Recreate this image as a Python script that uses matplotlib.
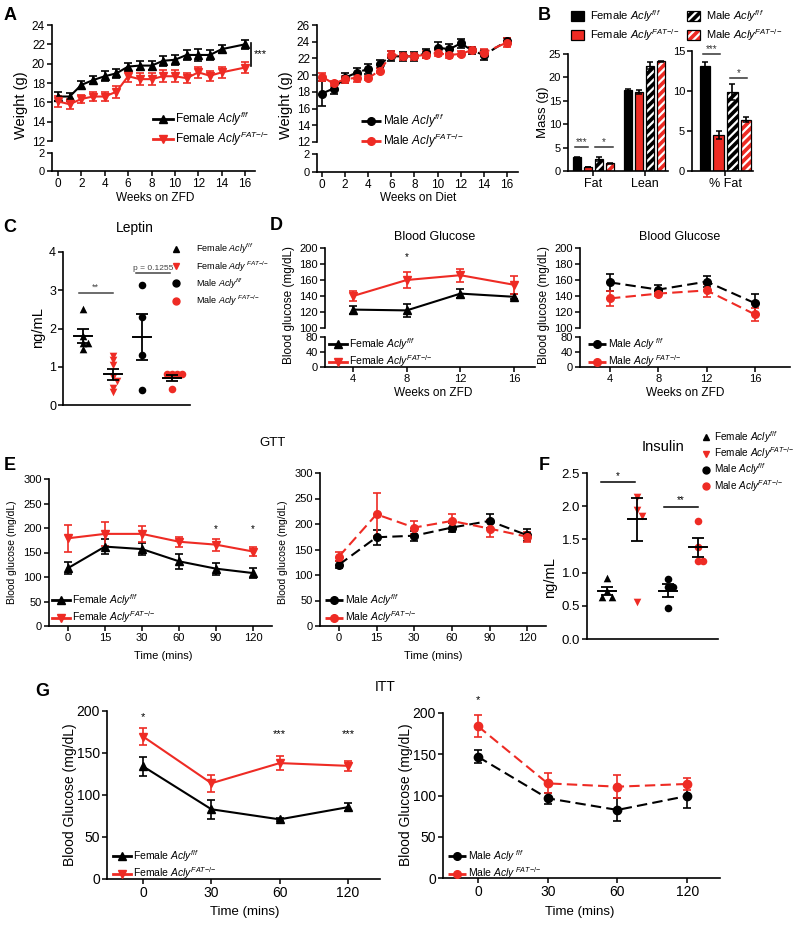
import numpy as np
import matplotlib
matplotlib.use("Agg")
import matplotlib.pyplot as plt
from matplotlib.patches import Patch
from matplotlib.lines import Line2D

plt.rcParams['font.family'] = ['Liberation Sans', 'DejaVu Sans']
plt.rcParams['mathtext.fontset'] = 'custom'
plt.rcParams['mathtext.rm'] = 'Liberation Sans'
plt.rcParams['mathtext.it'] = 'Liberation Sans:italic'
plt.rcParams['hatch.linewidth'] = 1.6
plt.rcParams['axes.linewidth'] = 1.2

RED = '#ee2b24'

# ---- A: body weight (g) ----
weeks = [0, 1, 2, 3, 4, 5, 6, 7, 8, 9, 10, 11, 12, 13, 14, 16]
a_f_ctl = [16.6, 16.6, 17.8, 18.3, 18.7, 19.0, 19.7, 19.8, 19.8, 20.3, 20.4, 20.9, 20.9, 20.9, 21.5, 22.0]
a_f_ctl_err = [0.5, 0.4, 0.4, 0.4, 0.5, 0.5, 0.4, 0.5, 0.5, 0.5, 0.5, 0.5, 0.6, 0.5, 0.4, 0.5]
a_f_ko = [16.1, 15.8, 16.35, 16.6, 16.6, 17.1, 18.7, 18.4, 18.4, 18.7, 18.7, 18.5, 19.1, 18.75, 19.1, 19.6]
a_f_ko_err = [0.6, 0.5, 0.4, 0.5, 0.5, 0.6, 0.6, 0.6, 0.6, 0.6, 0.6, 0.5, 0.6, 0.5, 0.6, 0.6]
a_m_ctl = [17.8, 18.4, 19.7, 20.3, 20.75, 21.35, 22.25, 22.25, 22.25, 22.6, 23.3, 23.1, 23.8, 22.95, 22.4, 24.1]
a_m_ctl_err = [1.5, 0.6, 0.6, 0.6, 0.6, 0.5, 0.6, 0.5, 0.5, 0.5, 0.7, 0.6, 0.5, 0.4, 0.6, 0.3]
a_m_ko = [19.8, 19.0, 19.5, 19.7, 19.65, 20.55, 22.45, 22.25, 22.25, 22.45, 22.65, 22.4, 22.55, 23.0, 22.7, 23.9]
a_m_ko_err = [0.5, 0.3, 0.4, 0.5, 0.2, 0.3, 0.4, 0.4, 0.4, 0.4, 0.4, 0.3, 0.3, 0.4, 0.4, 0.5]

# ---- B: body composition ----
b_cats = ['Fat', 'Lean']
b_f_ctl = [2.9, 17.4];  b_f_ctl_err = [0.1, 0.2]
b_f_ko = [0.9, 16.9];   b_f_ko_err = [0.05, 0.5]
b_m_ctl = [2.6, 22.5];  b_m_ctl_err = [0.4, 0.7]
b_m_ko = [1.7, 23.4];   b_m_ko_err = [0.1, 0.2]
b_pct = [13.1, 4.5, 9.9, 6.4]
b_pct_err = [0.5, 0.5, 1.0, 0.3]

# ---- C: leptin (ng/mL) ----
c_pts = [[2.5, 1.8, 1.62, 1.62, 1.47],
         [1.28, 1.18, 1.04, 0.72, 0.62, 0.45, 0.35],
         [3.15, 2.3, 1.3, 0.4],
         [0.8, 0.8, 0.8, 0.8, 0.42]]
c_mean = [1.8, 0.8, 1.78, 0.7]
c_sem = [0.19, 0.15, 0.6, 0.08]

# ---- D: blood glucose over weeks ----
d_weeks = [4, 8, 12, 16]
d_f_ctl = [123, 122, 143, 139];  d_f_ctl_err = [5, 8, 6, 3]
d_f_ko = [140, 160, 166, 154];   d_f_ko_err = [6, 10, 8, 11]
d_m_ctl = [157, 148, 158, 131];  d_m_ctl_err = [11, 6, 7, 12]
d_m_ko = [137, 143, 147, 117];   d_m_ko_err = [9, 3, 8, 8]

# ---- E: GTT ----
gtt_t = ['0', '15', '30', '60', '90', '120']
e_f_ctl = [118, 162, 157, 132, 117, 108];  e_f_ctl_err = [12, 15, 12, 15, 12, 10]
e_f_ko = [179, 188, 188, 172, 166, 152];   e_f_ko_err = [28, 25, 16, 10, 12, 9]
e_m_ctl = [120, 174, 177, 193, 206, 178];  e_m_ctl_err = [7, 15, 10, 9, 14, 12]
e_m_ko = [136, 219, 193, 206, 191, 175];   e_m_ko_err = [9, 42, 13, 13, 17, 10]

# ---- F: insulin (ng/mL) ----
f_pts = [[0.92, 0.72, 0.63, 0.63],
         [2.14, 1.95, 1.85, 0.55],
         [0.9, 0.78, 0.78, 0.47],
         [1.77, 1.38, 1.18, 1.18]]
f_mean = [0.72, 1.8, 0.73, 1.38]
f_sem = [0.06, 0.33, 0.1, 0.14]

# ---- G: ITT ----
itt_t = ['0', '30', '60', '120']
g_f_ctl = [134, 83, 71, 85.5];   g_f_ctl_err = [11, 11, 2, 5]
g_f_ko = [169.5, 114, 138, 134.7]; g_f_ko_err = [10, 10, 8, 6]
g_m_ctl = [147, 96.6, 82.5, 99.4]; g_m_ctl_err = [8, 7, 14, 15]
g_m_ko = [184, 114.7, 110.7, 114]; g_m_ko_err = [13, 12, 14, 7]

lab_f_ctl = r'Female $\mathit{Acly}^{\mathit{f/f}}$'
lab_f_ko = r'Female $\mathit{Acly}^{\mathit{FAT{-}/{-}}}$'
lab_m_ctl = r'Male $\mathit{Acly}^{\mathit{f/f}}$'
lab_m_ko = r'Male $\mathit{Acly}^{\mathit{FAT{-}/{-}}}$'

W, H = 800, 925
fig = plt.figure(figsize=(8, 9.25), dpi=100)


def axp(l, t, r, b):
    return fig.add_axes([l / W, 1 - b / H, (r - l) / W, (b - t) / H])


def style(ax, fs=8):
    ax.spines['top'].set_visible(False)
    ax.spines['right'].set_visible(False)
    ax.tick_params(direction='out', length=3.5, width=1.1, labelsize=fs, pad=1.5)
    ax.patch.set_alpha(0)


def top_part(ax):
    ax.spines['bottom'].set_visible(False)
    ax.set_xticks([])


def ftext(x, y, s, **kw):
    kw.setdefault('ha', 'center')
    kw.setdefault('va', 'center')
    fig.text(x / W, 1 - y / H, s, **kw)


def eb(ax, x, y, e, color, marker, dashed=False, ms=5.5):
    ls = (0, (5, 2.5)) if dashed else '-'
    ax.errorbar(x, y, yerr=e, color=color, marker=marker, ms=ms, lw=1.5, ls=ls,
                capsize=3, capthick=1.2, elinewidth=1.2, clip_on=False)


def hline(color, marker, dashed=False):
    ls = (0, (3, 1.5)) if dashed else '-'
    return Line2D([], [], color=color, marker=marker, ms=5.5, lw=2, ls=ls)


def leg(ax, handles, labels, x, y, fs=8, **kw):
    opts = dict(handlelength=1.7, handletextpad=0.2, labelspacing=0.15)
    opts.update(kw)
    ax.legend(handles, labels, loc='upper left', bbox_to_anchor=(x / W, 1 - y / H),
              bbox_transform=fig.transFigure, frameon=False, fontsize=fs,
              borderpad=0, borderaxespad=0, numpoints=1, **opts)


def spread(vals, step=0.16, tol=0.1):
    placed, offs = [], []
    for v in vals:
        k = sum(1 for pv in placed if abs(pv - v) < tol)
        o = 0 if k == 0 else ((k + 1) // 2) * step * (1 if k % 2 else -1)
        placed.append(v)
        offs.append(o)
    return np.array(offs)


# ================= A =================
for (l, r, top_y, bot_y, lo_top, lo_bot, xlim, ctl, ctl_e, ko, ko_e, mk, dashed, labs, legxy, yl, xl) in [
        (52, 255, 25, 141, 153, 171, (-0.51, 16.85), a_f_ctl, a_f_ctl_err, a_f_ko, a_f_ko_err,
         ('^', 'v'), False, (lab_f_ctl, lab_f_ko), (153, 110), (12, 24), ('Weeks on ZFD', 155)),
        (317, 518, 25, 142, 154, 172, (-0.43, 16.95), a_m_ctl, a_m_ctl_err, a_m_ko, a_m_ko_err,
         ('o', 'o'), True, (lab_m_ctl, lab_m_ko), (361, 112), (12, 26), ('Weeks on Diet', 418))]:
    ax = axp(l, top_y, r, bot_y)
    style(ax, 8.5)
    top_part(ax)
    eb(ax, weeks, ctl, ctl_e, 'k', mk[0], dashed)
    eb(ax, weeks, ko, ko_e, RED, mk[1], dashed)
    ax.set_xlim(*xlim)
    ax.set_ylim(*yl)
    ax.set_yticks(np.arange(yl[0], yl[1] + 1, 2))
    leg(ax, [hline('k', mk[0], dashed), hline(RED, mk[1], dashed)], labs, *legxy, fs=8.5)
    axb = axp(l, lo_top, r, lo_bot)
    style(axb, 8.5)
    axb.tick_params(axis='y', labelsize=8)
    axb.set_xlim(*xlim)
    axb.set_ylim(0, 2)
    axb.set_yticks([0, 2])
    axb.set_xticks(range(0, 17, 2))
    ftext(xl[1], 198, xl[0], fontsize=8.5)
    ftext(l - 31, 105, 'Weight (g)', rotation=90, fontsize=10.5)
    if not dashed:
        ax.plot([16.55, 16.55], [19.8, 22.1], color='k', lw=1.2, clip_on=False)
        ax.text(16.75, 21.0, '***', fontsize=8, va='center', ha='left')

# ================= B =================
axB1 = axp(568, 54, 668, 171)
style(axB1, 8)
axB2 = axp(692, 51, 753, 171)
style(axB2, 8)
bw = 0.76
grp = np.array([0.0, 4.7])
series = [(b_f_ctl, b_f_ctl_err, 'k', False), (b_f_ko, b_f_ko_err, RED, False),
          (b_m_ctl, b_m_ctl_err, 'k', True), (b_m_ko, b_m_ko_err, RED, True)]


def bars(ax, xs, vals, errs, color, hatched):
    if hatched:
        ax.bar(xs, vals, bw, color=color, edgecolor='white', hatch='////', lw=0)
        ax.bar(xs, vals, bw, fill=False, edgecolor='k', lw=0.9)
    else:
        ax.bar(xs, vals, bw, color=color, edgecolor='k', lw=0.9)
    ax.errorbar(xs, vals, yerr=errs, fmt='none', ecolor='k', capsize=2.5, elinewidth=1.2, capthick=1.1)


for i, (v, e, c, h) in enumerate(series):
    bars(axB1, grp + i, v, e, c, h)
    bars(axB2, [i], [b_pct[i]], [b_pct_err[i]], c, h)
axB1.set_xlim(-0.83, 8.35)
axB1.set_ylim(0, 25)
axB1.set_yticks(range(0, 26, 5))
axB1.set_xticks(grp + 1.5)
axB1.set_xticklabels(b_cats, fontsize=9)
axB2.set_xlim(-0.93, 3.5)
axB2.set_ylim(0, 15)
axB2.set_yticks([0, 5, 10, 15])
axB2.set_xticks([1.5])
axB2.set_xticklabels(['% Fat'], fontsize=9)
for ax, x0, x1, y, s in [(axB1, -0.2, 1.0, 5.2, '***'), (axB1, 1.65, 3.3, 5.2, '*'),
                         (axB2, -0.12, 1.1, 14.6, '***'), (axB2, 1.84, 3.07, 11.6, '*')]:
    ax.plot([x0, x1], [y, y], color='#333333', lw=1.1, clip_on=False)
    ax.text((x0 + x1) / 2, y, s, ha='center', va='bottom', fontsize=7, color='#333333')
ftext(543, 112, 'Mass (g)', rotation=90, fontsize=9.5)
bh = []
for c, h in [('k', False), (RED, False), ('k', True), (RED, True)]:
    if h:
        bh.append((Patch(facecolor=c, edgecolor='white', hatch='////', lw=0),
                   Patch(fill=False, edgecolor='k', lw=0.9)))
    else:
        bh.append(Patch(facecolor=c, edgecolor='k', lw=0.9))
leg(axB1, bh, [lab_f_ctl, lab_f_ko, lab_m_ctl, lab_m_ko], 571, 8, fs=8, ncol=2,
    handlelength=1.2, handleheight=0.9, handletextpad=0.5, columnspacing=0.7, labelspacing=0.3)

# ================= C & F : dot plots =================
dot_mk = [('^', 'k'), ('v', RED), ('o', 'k'), ('o', RED)]
dot_labs = [r'Female $\mathit{Acly}^{\mathit{f/f}}$', r'Female $\mathit{Ady}^{\ \mathit{FAT{-}/{-}}}$',
            r'Male $\mathit{Acly}^{\mathit{f/f}}$', r'Male $\mathit{Acly}^{\ \mathit{FAT{-}/{-}}}$']
dot_labs_f = [r'Female $\mathit{Acly}^{\mathit{f/f}}$', r'Female $\mathit{Acly}^{\mathit{FAT{-}/{-}}}$',
              r'Male $\mathit{Acly}^{\mathit{f/f}}$', r'Male $\mathit{Acly}^{\mathit{FAT{-}/{-}}}$']


def dotplot(ax, pts, means, sems):
    for i, vals in enumerate(pts):
        m, c = dot_mk[i]
        ax.scatter(i + spread(vals), vals, marker=m, color=c, s=30, zorder=3, clip_on=False, lw=0)
        ax.plot([i - 0.3, i + 0.3], [means[i], means[i]], color='k', lw=1.4, zorder=4)
        ax.errorbar(i, means[i], yerr=sems[i], fmt='none', ecolor='k', capsize=4,
                    elinewidth=1.3, capthick=1.3, zorder=4)
    ax.set_xticks([])


axC = axp(63, 252, 190, 405)
style(axC, 9)
dotplot(axC, c_pts, c_mean, c_sem)
axC.set_xlim(-0.67, 3.6)
axC.set_ylim(0, 4)
axC.set_yticks([0, 1, 2, 3, 4])
axC.plot([-0.13, 1.0], [2.93, 2.93], color='#444444', lw=1.1)
axC.text(0.43, 2.95, '**', ha='center', va='bottom', fontsize=6.5, color='#444444')
axC.plot([1.79, 2.94], [3.45, 3.45], color='#444444', lw=1.1)
axC.text(2.36, 3.48, 'p = 0.1255', ha='center', va='bottom', fontsize=6, color='#444444')
ftext(135, 228, 'Leptin', fontsize=10)
ftext(38, 328, 'ng/mL', rotation=90, fontsize=10.5)
leg(axC, [Line2D([], [], ls='none', marker=m, color=c, ms=5) for m, c in dot_mk], dot_labs,
    171, 242, fs=6.5, handlelength=1.2, handletextpad=1.6, labelspacing=0.3)

axF = axp(587, 473, 718, 639)
style(axF, 9.5)
dotplot(axF, f_pts, f_mean, f_sem)
axF.set_xlim(-0.66, 3.66)
axF.set_ylim(0, 2.5)
axF.set_yticks(np.arange(0, 2.51, 0.5))
axF.set_yticklabels(['%.1f' % v for v in np.arange(0, 2.51, 0.5)])
axF.plot([-0.2, 0.92], [2.36, 2.36], color='k', lw=1.1)
axF.text(0.36, 2.38, '*', ha='center', va='bottom', fontsize=7)
axF.plot([1.88, 3.0], [1.99, 1.99], color='k', lw=1.1)
axF.text(2.44, 2.01, '**', ha='center', va='bottom', fontsize=7)
ftext(663, 447, 'Insulin', fontsize=10.5)
ftext(550, 578, 'ng/mL', rotation=90, fontsize=10.5)
leg(axF, [Line2D([], [], ls='none', marker=m, color=c, ms=5) for m, c in dot_mk], dot_labs_f,
    702, 429, fs=7.2, handlelength=0.8, handletextpad=0.4, labelspacing=0.05)

# ================= D =================
for (l, r, xlim, ctl, ctl_e, ko, ko_e, mk, dashed, labs, title_x, legx, xl_x) in [
        (325, 535, (1.91, 17.56), d_f_ctl, d_f_ctl_err, d_f_ko, d_f_ko_err, ('^', 'v'), False,
         (lab_f_ctl, lab_f_ko), 435, 329, 433),
        (580, 790, (1.52, 18.9), d_m_ctl, d_m_ctl_err, d_m_ko, d_m_ko_err, ('o', 'o'), True,
         (r'Male $\mathit{Acly}^{\ \mathit{f/f}}$', r'Male $\mathit{Acly}^{\ \mathit{FAT{-}/{-}}}$'), 680, 588, 685)]:
    ax = axp(l, 248, r, 328)
    style(ax, 8)
    top_part(ax)
    eb(ax, d_weeks, ctl, ctl_e, 'k', mk[0], dashed)
    eb(ax, d_weeks, ko, ko_e, RED, mk[1], dashed)
    ax.set_xlim(*xlim)
    ax.set_ylim(100, 200)
    ax.set_yticks(range(100, 201, 20))
    axb = axp(l, 337, r, 367)
    style(axb, 8)
    axb.set_xlim(*xlim)
    axb.set_ylim(0, 80)
    axb.set_yticks([0, 40, 80])
    axb.set_xticks(d_weeks)
    leg(axb, [hline('k', mk[0], dashed), hline(RED, mk[1], dashed)], labs, legx, 336, fs=7.5)
    ftext(title_x, 237, 'Blood Glucose', fontsize=9)
    ftext(xl_x, 393, 'Weeks on ZFD', fontsize=8.5)
    ftext(l - 36, 305, 'Blood glucose (mg/dL)', rotation=90, fontsize=8.5)
    if not dashed:
        ax.text(8, 189, '*', ha='center', va='center', fontsize=7)

# ================= E =================
for (l, t, r, xlim, ctl, ctl_e, ko, ko_e, mk, dashed, labs, legx, xl_x, yl_x) in [
        (49, 479, 272, (-0.51, 5.51), e_f_ctl, e_f_ctl_err, e_f_ko, e_f_ko_err, ('^', 'v'), False,
         (lab_f_ctl, lab_f_ko), 52, 163, 12),
        (320, 473, 546, (-0.5, 5.5), e_m_ctl, e_m_ctl_err, e_m_ko, e_m_ko_err, ('o', 'o'), True,
         (lab_m_ctl, lab_m_ko), 325, 433, 283)]:
    ax = axp(l, t, r, 626)
    style(ax, 8)
    x = np.arange(len(gtt_t))
    eb(ax, x, ctl, ctl_e, 'k', mk[0], dashed)
    eb(ax, x, ko, ko_e, RED, mk[1], dashed)
    ax.set_xlim(*xlim)
    ax.set_ylim(0, 300)
    ax.set_yticks(range(0, 301, 50))
    ax.set_xticks(x)
    ax.set_xticklabels(gtt_t)
    leg(ax, [hline('k', mk[0], dashed), hline(RED, mk[1], dashed)], labs, legx, 592, fs=7.5)
    ftext(xl_x, 656, 'Time (mins)', fontsize=8)
    ftext(yl_x, 552, 'Blood glucose (mg/dL)', rotation=90, fontsize=7.5)
    if not dashed:
        for xi in [4, 5]:
            ax.text(xi, 198, '*', ha='center', va='center', fontsize=7)
ftext(272, 443, 'GTT', fontsize=9.5)

# ================= G =================
for (l, t, r, b, xlim, ctl, ctl_e, ko, ko_e, mk, dashed, labs, legx, xl_x, yl_x) in [
        (107, 711, 380, 879, (-0.53, 3.47), g_f_ctl, g_f_ctl_err, g_f_ko, g_f_ko_err, ('^', 'v'), False,
         (lab_f_ctl, lab_f_ko), 113, 245, 70),
        (443, 713, 720, 878, (-0.5, 3.47), g_m_ctl, g_m_ctl_err, g_m_ko, g_m_ko_err, ('o', 'o'), True,
         (r'Male $\mathit{Acly}^{\ \mathit{f/f}}$', r'Male $\mathit{Acly}^{\ \mathit{FAT{-}/{-}}}$'), 448, 580, 406)]:
    ax = axp(l, t, r, b)
    style(ax, 10)
    x = np.arange(len(itt_t))
    eb(ax, x, ctl, ctl_e, 'k', mk[0], dashed, ms=6)
    eb(ax, x, ko, ko_e, RED, mk[1], dashed, ms=6)
    ax.set_xlim(*xlim)
    ax.set_ylim(0, 200)
    ax.set_yticks(range(0, 201, 50))
    ax.set_xticks(x)
    ax.set_xticklabels(itt_t)
    leg(ax, [hline('k', mk[0], dashed), hline(RED, mk[1], dashed)], labs, legx, 848, fs=7.5)
    ftext(xl_x, 912, 'Time (mins)', fontsize=9.5)
    ftext(yl_x, 795, 'Blood Glucose (mg/dL)', rotation=90, fontsize=10)
    if not dashed:
        ax.text(0, 193, '*', ha='center', va='center', fontsize=8)
        for xi in [2, 3]:
            ax.text(xi, 173, '***', ha='center', va='center', fontsize=8)
    else:
        ax.text(0, 216, '*', ha='center', va='center', fontsize=8, clip_on=False)
ftext(385, 687, 'ITT', fontsize=10)

# panel letters
for s, x, y in [('A', 10, 15), ('B', 544, 16), ('C', 10, 228), ('D', 276, 225),
                ('E', 10, 465), ('F', 544, 465), ('G', 42, 692)]:
    ftext(x, y, s, fontsize=13, fontweight='bold')

fig.savefig('out.png', dpi=100)
